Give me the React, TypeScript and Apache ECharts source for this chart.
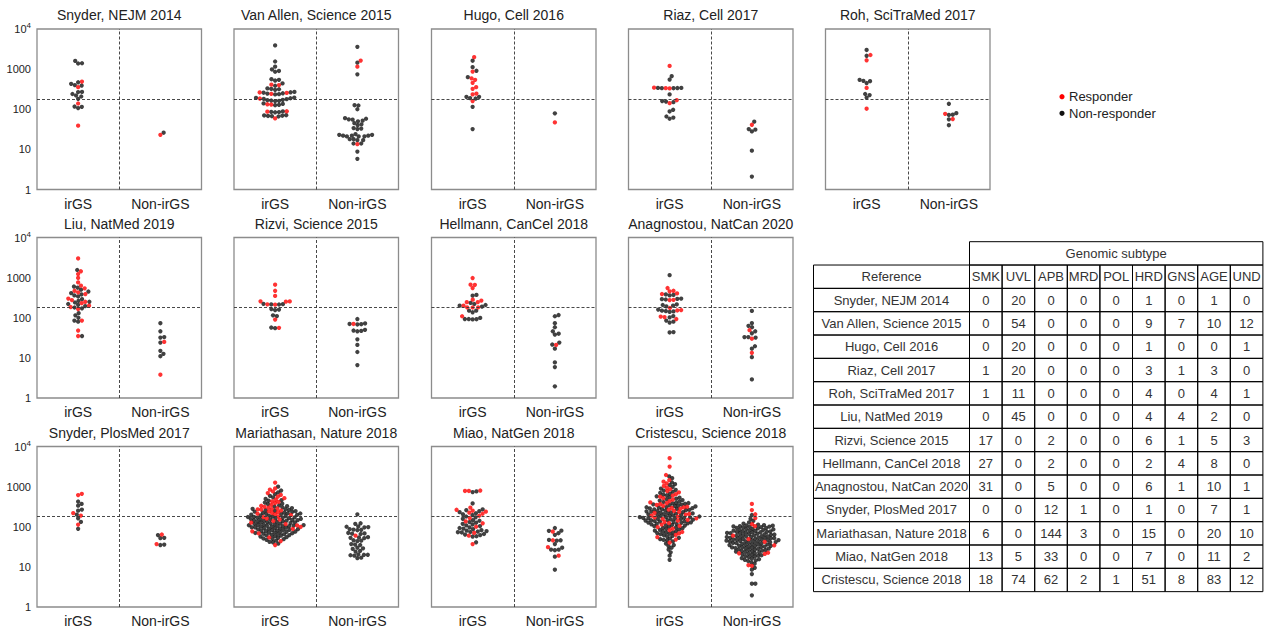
import React, { useEffect, useRef } from "react";
import * as echarts from "echarts";

// ---------------- data ----------------
const panelTitles = [
  "Snyder, NEJM 2014", "Van Allen, Science 2015", "Hugo, Cell 2016", "Riaz, Cell 2017", "Roh, SciTraMed 2017",
  "Liu, NatMed 2019", "Rizvi, Science 2015", "Hellmann, CanCel 2018", "Anagnostou, NatCan 2020",
  "Snyder, PlosMed 2017", "Mariathasan, Nature 2018", "Miao, NatGen 2018", "Cristescu, Science 2018",
];
const groupLabels = ["irGS", "Non-irGS"];
const yTicks = [1, 10, 100, 1000, 10000];
const tmbCutoff = 178;
const legendNames = ["Responder", "Non-responder"];

// R = responder, N = non-responder ; Irgs / Non groups
const snyNejmIrgsR = [490, 355, 139, 39];
const snyNejmIrgsN = [1600, 1400, 1380, 470, 430, 400, 390, 270, 268, 240, 220, 208, 182, 117, 115, 107];
const snyNejmNonR = [23];
const snyNejmNonN = [26];

const vanIrgsR = [410, 400, 262, 255, 242, 185, 133, 131, 89, 87, 59];
const vanIrgsN = [3900, 1550, 1150, 980, 900, 860, 560, 540, 520, 440, 385, 330, 320, 315, 305, 270, 265, 258, 250, 246, 238, 234, 195, 192, 188, 182, 178, 172, 168, 165, 162, 160, 140, 136, 129, 126, 88, 86, 85, 84, 71, 70, 69, 68, 67, 66];
const vanNonR = [1630, 1150, 13.5];
const vanNonN = [3600, 1450, 740, 126, 124, 100, 60, 58, 56, 55, 52, 50, 45, 42, 40, 34, 33, 32, 24, 23, 23, 22, 22, 22, 21, 21, 21, 18, 18, 17, 17, 14, 14, 8.8, 5.8];

const hugoIrgsR = [1990, 870, 540, 590, 455, 355, 323, 246, 234, 160];
const hugoIrgsN = [1620, 1120, 910, 630, 204, 204, 190, 185, 115, 32];
const hugoNonR = [47];
const hugoNonN = [79];

const riazIrgsR = [1200, 345, 335, 330, 168, 142];
const riazIrgsN = [665, 550, 340, 340, 338, 336, 334, 234, 160, 155, 150, 97, 88, 66, 62, 58];
const riazNonR = [41];
const riazNonN = [49, 32, 31, 28, 9.3, 2.1];

const rohIrgsR = [2250, 1660, 340, 103];
const rohIrgsN = [3000, 2150, 540, 510, 500, 450, 240, 225, 195];
const rohNonR = [77, 57];
const rohNonN = [137, 80, 73, 72, 56, 40];

const liuIrgsR = [3000, 1440, 1230, 980, 760, 630, 540, 470, 430, 390, 300, 275, 250, 230, 200, 185, 165, 85, 48, 35];
const liuIrgsN = [1550, 600, 560, 500, 450, 410, 380, 360, 340, 290, 265, 250, 240, 220, 210, 195, 180, 172, 130, 115, 100, 85, 80, 35];
const liuNonR = [25, 3.8];
const liuNonN = [73, 46, 33, 32, 24, 15, 12.6, 11];

const rizIrgsR = [665, 470, 350, 257, 255, 252, 216, 212, 90, 56];
const rizIrgsN = [222, 218, 215, 214, 165, 160, 155, 115, 110, 57, 55];
const rizNonR = [70];
const rizNonN = [93, 72, 70, 69, 68, 50, 48, 47, 46, 29, 21, 14, 6.6];

const helIrgsR = [977, 665, 660, 550, 282, 268, 245, 245, 200, 182, 182, 180, 109];
const helIrgsN = [370, 355, 234, 220, 208, 200, 190, 150, 150, 137, 99, 93, 93, 92, 91];
const helNonR = [21];
const helNonN = [117, 109, 73, 58, 46, 40, 38, 24, 21.5, 17, 7.7, 5.9, 1.95];

const anaIrgsR = [550, 470, 455, 405, 390, 280, 275, 175, 155, 152, 107, 104, 93];
const anaIrgsN = [1150, 380, 370, 360, 300, 295, 290, 285, 215, 208, 200, 192, 160, 150, 147, 144, 140, 110, 102, 85, 80, 76, 44, 43];
const anaNonR = [49, 30, 13.4];
const anaNonN = [148, 73, 63, 58, 46, 41, 33, 33, 32, 19.5, 17, 10.4, 2.9];

const snyPlosIrgsR = [660, 615, 218, 190, 113];
const snyPlosIrgsN = [425, 370, 335, 268, 252, 200, 162, 132, 89];
const snyPlosNonR = [64, 37];
const snyPlosNonN = [62, 53, 52, 36, 35];

const mariIrgsR = [1260, 900, 840, 760, 690, 620, 560, 515, 475, 430, 415, 390, 352, 333, 312, 299, 286, 276, 270, 266, 254, 242, 230, 220, 212, 203, 194, 182, 173, 160, 150, 139, 127, 117, 108, 99, 88, 77, 68, 54, 44, 35];
const mariIrgsN = [
  1000, 800, 720, 650, 590, 540, 495, 460, 445, 400, 375, 365,
  340, 326, 319, 305, 292, 280, 273,
  262, 258, 250, 246, 238, 234, 226, 223, 217, 214, 210,
  206, 200, 197, 191, 188, 185, 179, 177, 175, 171, 169, 167,
  164, 162, 158, 156, 154, 152, 148, 146, 144, 142, 140, 137, 136,
  133, 131, 129, 126, 124, 122, 120, 118, 115, 113, 112, 110, 109, 107, 106, 105,
  104, 103, 101, 100, 97, 96, 95, 93, 92, 91, 89, 87, 86,
  84, 83, 82, 81, 79, 78, 76, 75, 74, 72, 71, 70, 69,
  67, 66, 65, 63, 62, 61, 60, 58, 57, 55, 53, 51, 50, 49,
  47, 45, 42, 41, 38,
];
const mariNonR = [60];
const mariNonN = [204, 122, 118, 102, 100, 98, 96, 87, 85, 84, 82, 70, 68, 67, 66, 55, 54, 53, 52, 46, 45, 44, 37, 36, 35, 30, 29, 28, 25, 24, 20.5, 20, 20, 19.5, 19, 17, 16.5];

const miaoIrgsR = [800, 780, 780, 300, 265, 251, 238, 224, 211, 188, 165, 136, 122, 100, 70, 60, 37];
const miaoIrgsN = [760, 730, 380, 272, 258, 244, 231, 217, 205, 196, 180, 172, 158, 146, 141, 131, 126, 118, 114, 108, 104, 96, 93, 90, 87, 82, 80, 78, 76, 74, 73, 72, 66, 64, 62, 58, 57, 41];
const miaoNonR = [76, 46, 31, 19];
const miaoNonN = [93, 80, 79, 69, 63, 47, 46, 45, 37, 30, 27, 27, 26, 18, 8.5];

const crisIrgsR = [5100, 3160, 1950, 1450, 1330, 1210, 1040, 940, 860, 770, 720, 650, 595, 560, 515, 474, 437, 404, 386, 368, 350, 332, 315, 303, 294, 282, 266, 250, 234, 221, 210, 201, 189, 178, 170, 162, 156, 149, 141, 131, 123, 113, 105, 98, 90, 82, 74, 68, 63, 55, 48, 40];
const crisIrgsN = [
  1800, 1620, 1270, 1150, 1090, 990,
  895, 830, 800, 745, 695, 670, 630, 610,
  575, 545, 530, 500, 487, 461, 449, 425, 414, 396, 390, 382,
  374, 362, 356, 344, 338, 326, 320, 310, 306,
  298, 290, 286, 278, 274, 270, 262, 258, 254, 246, 242, 238, 230, 227, 224, 218, 215, 212,
  207, 204, 198, 195, 192, 186, 183, 180, 176, 174, 172, 168, 166, 164, 160, 158, 157,
  153, 151, 147, 145, 143, 139, 137, 135, 133, 129, 127, 125, 121, 119, 117, 115, 111, 109, 107,
  103, 100, 96, 94, 92, 88, 86, 84, 80, 78, 76, 72, 71, 69, 67,
  65, 61, 59, 57, 53, 51, 49, 47, 46,
  43, 38, 35, 33, 30, 27, 23, 19, 15,
];
const crisNonR = [370, 260, 205, 165, 116, 103, 60, 49, 42, 34.5, 22.5, 21.8, 21, 11, 10.6];
const crisNonN = [
  196, 158,
  140, 128, 120, 113, 110, 108, 106, 104, 102, 101, 100,
  98, 96, 94, 93, 91, 89, 88, 86, 84, 83, 81, 80, 79, 78, 77,
  75, 74, 73, 72, 71, 70, 69, 68, 67, 66, 65, 64, 63, 62, 61, 59,
  58.5, 58, 57, 56, 55.5, 55, 54, 53, 52.5, 52, 51, 50, 49.5, 48.5, 48,
  47.5, 47, 46.5, 46, 45, 44.5, 44, 43.5, 43, 41.5, 41, 40.5, 40,
  39.5, 39, 38.5, 38, 37, 36.5, 36, 35.5, 35, 34, 33.5, 33,
  32.5, 32, 31.5, 31, 30.5, 30, 29.5, 29, 28.5, 28, 27.5, 27, 26.5, 26,
  25.5, 25, 24.5, 24, 23.5, 23, 22, 21.5,
  20.5, 20, 19.5, 19, 18.5, 18, 17.5,
  16.5, 16, 15.5, 15, 14.5, 14,
  13, 12, 9.5, 8.5, 6.6, 3.8, 3.8, 1.95,
];

const panelData = [
  [snyNejmIrgsR, snyNejmIrgsN, snyNejmNonR, snyNejmNonN],
  [vanIrgsR, vanIrgsN, vanNonR, vanNonN],
  [hugoIrgsR, hugoIrgsN, hugoNonR, hugoNonN],
  [riazIrgsR, riazIrgsN, riazNonR, riazNonN],
  [rohIrgsR, rohIrgsN, rohNonR, rohNonN],
  [liuIrgsR, liuIrgsN, liuNonR, liuNonN],
  [rizIrgsR, rizIrgsN, rizNonR, rizNonN],
  [helIrgsR, helIrgsN, helNonR, helNonN],
  [anaIrgsR, anaIrgsN, anaNonR, anaNonN],
  [snyPlosIrgsR, snyPlosIrgsN, snyPlosNonR, snyPlosNonN],
  [mariIrgsR, mariIrgsN, mariNonR, mariNonN],
  [miaoIrgsR, miaoIrgsN, miaoNonR, miaoNonN],
  [crisIrgsR, crisIrgsN, crisNonR, crisNonN],
];

const tableRefs = panelTitles;
const subtypeHeader = "Genomic subtype";
const refHeader = "Reference";
const subtypeCols = ["SMK", "UVL", "APB", "MRD", "POL", "HRD", "GNS", "AGE", "UND"];
const subtypeCounts = [
  [0, 20, 0, 0, 0, 1, 0, 1, 0],
  [0, 54, 0, 0, 0, 9, 7, 10, 12],
  [0, 20, 0, 0, 0, 1, 0, 0, 1],
  [1, 20, 0, 0, 0, 3, 1, 3, 0],
  [1, 11, 0, 0, 0, 4, 0, 4, 1],
  [0, 45, 0, 0, 0, 4, 4, 2, 0],
  [17, 0, 2, 0, 0, 6, 1, 5, 3],
  [27, 0, 2, 0, 0, 2, 4, 8, 0],
  [31, 0, 5, 0, 0, 6, 1, 10, 1],
  [0, 0, 12, 1, 0, 1, 0, 7, 1],
  [6, 0, 144, 3, 0, 15, 0, 20, 10],
  [13, 5, 33, 0, 0, 7, 0, 11, 2],
  [18, 74, 62, 2, 1, 51, 8, 83, 12],
];

// ---------------- layout / style ----------------
const FONT = '"Liberation Sans", Arial, Helvetica, sans-serif';
const RED = "#ff0000";
const BLACK = "#111111";
const PANEL_W = 164.5;
const PANEL_H = 160.5;
const colLefts = [37, 234, 431.5, 628.5, 825.5];
const rowTops = [29, 237.5, 446.5];
const rowCounts = [5, 4, 4];
const SYM = 4.3;
const GAP_SMALL = 3.9;
const GAP_LARGE = 3.5;

// beeswarm offsets (pixels) for values on a log axis
function swarmOffsets(values: number[], pxPerDecade: number, d: number): number[] {
  const order = values.map((_, i) => i).sort((a, b) => values[a] - values[b]);
  const placed: { x: number; y: number }[] = [];
  const out = new Array(values.length).fill(0);
  for (const i of order) {
    const y = Math.log10(values[i]) * pxPerDecade;
    const cands = [0];
    for (const p of placed) {
      const dy = Math.abs(p.y - y);
      if (dy < d) {
        const dx = Math.sqrt(d * d - dy * dy);
        cands.push(p.x + dx, p.x - dx);
      }
    }
    cands.sort((a, b) => Math.abs(a) - Math.abs(b));
    let chosen = 0;
    for (const c of cands) {
      let ok = true;
      for (const p of placed) {
        const dx = p.x - c;
        const dy = p.y - y;
        if (dx * dx + dy * dy < d * d - 1e-6) { ok = false; break; }
      }
      if (ok) { chosen = c; break; }
    }
    placed.push({ x: chosen, y });
    out[i] = chosen;
  }
  return out;
}

function buildOption() {
  const grids: any[] = [];
  const xAxes: any[] = [];
  const yAxes: any[] = [];
  const series: any[] = [];
  const graphics: any[] = [];
  const pxPerUnit = PANEL_W / 2;
  const pxPerDecade = PANEL_H / 4;

  let idx = 0;
  rowCounts.forEach((cnt, r) => {
    for (let c = 0; c < cnt; c++) {
      const i = idx++;
      const left = colLefts[c];
      const top = rowTops[r];
      grids.push({ left, top, width: PANEL_W, height: PANEL_H, show: true, borderColor: "#8c8c8c", borderWidth: 1.3, backgroundColor: "transparent" });
      xAxes.push({
        type: "value", gridIndex: i, min: 0, max: 2, interval: 0.5,
        axisLine: { show: false }, axisTick: { show: false }, splitLine: { show: false },
        axisLabel: {
          show: true, margin: 7, fontSize: 14, color: "#222", fontFamily: FONT,
          showMinLabel: true, showMaxLabel: true,
          formatter: (v: number) => (Math.abs(v - 0.5) < 1e-6 ? groupLabels[0] : Math.abs(v - 1.5) < 1e-6 ? groupLabels[1] : ""),
        },
      });
      yAxes.push({
        type: "log", logBase: 10, gridIndex: i, min: yTicks[0], max: yTicks[yTicks.length - 1],
        axisLine: { show: false }, axisTick: { show: false }, splitLine: { show: false },
        axisLabel: {
          show: c === 0, margin: 6, fontSize: 11, color: "#222", fontFamily: FONT,
          showMinLabel: true, showMaxLabel: true,
          formatter: (v: number) => {
            const rv = Math.round(v);
            return rv === 10000 ? "{b|10}{s|4}" : "{b|" + rv + "}";
          },
          rich: {
            b: { fontSize: 11, color: "#222", fontFamily: FONT },
            s: { fontSize: 8, color: "#222", fontFamily: FONT, padding: [0, 0, 7, 0] },
          },
        },
      });

      const [irR, irN, nonR, nonN] = panelData[i];
      const groups = [
        { center: 0.5, r: irR, n: irN },
        { center: 1.5, r: nonR, n: nonN },
      ];
      const redPts: any[] = [];
      const blackPts: any[] = [];
      groups.forEach((g) => {
        const vals = g.r.concat(g.n);
        const gap = vals.length > 100 ? GAP_LARGE : GAP_SMALL;
        const offs = swarmOffsets(vals, pxPerDecade, gap);
        vals.forEach((v, k) => {
          const pt = [g.center + offs[k] / pxPerUnit, v];
          if (k < g.r.length) redPts.push(pt); else blackPts.push(pt);
        });
      });
      series.push({
        type: "scatter", name: legendNames[1], xAxisIndex: i, yAxisIndex: i, silent: true,
        symbol: "circle", symbolSize: SYM, itemStyle: { color: BLACK }, data: blackPts,
        markLine: {
          silent: true, symbol: "none", animation: false,
          label: { show: false },
          lineStyle: { type: [3, 2], color: "#333", width: 0.9 },
          data: [{ xAxis: 1 }, { yAxis: tmbCutoff }],
        },
      });
      series.push({
        type: "scatter", name: legendNames[0], xAxisIndex: i, yAxisIndex: i, silent: true,
        symbol: "circle", symbolSize: SYM, itemStyle: { color: RED }, data: redPts,
      });
      graphics.push({
        type: "text", x: left + PANEL_W / 2, y: top - 14, silent: true,
        style: { text: panelTitles[i], fontSize: 14, fontFamily: FONT, fill: "#222", textAlign: "center", textVerticalAlign: "middle" },
      });
    }
  });

  // legend
  legendNames.forEach((name, k) => {
    const y = 96.7 + k * 16.6;
    graphics.push({ type: "circle", shape: { cx: 1062, cy: y, r: 2.6 }, style: { fill: k === 0 ? RED : BLACK }, silent: true });
    graphics.push({ type: "text", x: 1069, y, silent: true, style: { text: name, fontSize: 13, fontFamily: FONT, fill: "#222", textAlign: "left", textVerticalAlign: "middle" } });
  });

  // table
  const tL = 813.5, refW = 156, colW = 32.6, rowH = 23.33, tT = 241.7;
  const lineStyle = { fill: "none", stroke: "#000", lineWidth: 1 };
  const txt = (x: number, y: number, text: string) => ({
    type: "text", x, y, silent: true,
    style: { text, fontSize: 13, fontFamily: FONT, fill: "#333", textAlign: "center", textVerticalAlign: "middle" },
  });
  const sx = tL + refW;
  graphics.push({ type: "rect", shape: { x: sx, y: tT, width: colW * subtypeCols.length, height: rowH }, style: lineStyle, silent: true });
  graphics.push(txt(sx + (colW * subtypeCols.length) / 2, tT + rowH / 2, subtypeHeader));
  const r2 = tT + rowH;
  graphics.push({ type: "rect", shape: { x: tL, y: r2, width: refW, height: rowH }, style: lineStyle, silent: true });
  graphics.push(txt(tL + refW / 2, r2 + rowH / 2, refHeader));
  subtypeCols.forEach((s, j) => {
    graphics.push({ type: "rect", shape: { x: sx + j * colW, y: r2, width: colW, height: rowH }, style: lineStyle, silent: true });
    graphics.push(txt(sx + j * colW + colW / 2, r2 + rowH / 2, s));
  });
  tableRefs.forEach((ref, k) => {
    const ry = tT + (k + 2) * rowH;
    graphics.push({ type: "rect", shape: { x: tL, y: ry, width: refW, height: rowH }, style: lineStyle, silent: true });
    graphics.push(txt(tL + refW / 2, ry + rowH / 2, ref));
    subtypeCounts[k].forEach((v, j) => {
      graphics.push({ type: "rect", shape: { x: sx + j * colW, y: ry, width: colW, height: rowH }, style: lineStyle, silent: true });
      graphics.push(txt(sx + j * colW + colW / 2, ry + rowH / 2, String(v)));
    });
  });

  return {
    animation: false,
    backgroundColor: "#ffffff",
    textStyle: { fontFamily: FONT },
    grid: grids,
    xAxis: xAxes,
    yAxis: yAxes,
    series,
    graphic: { elements: graphics },
  };
}

export default function App() {
  const ref = useRef<HTMLDivElement>(null);
  useEffect(() => {
    if (!ref.current) return;
    const chart = echarts.init(ref.current, undefined, { renderer: "svg" });
    chart.setOption(buildOption() as any);
    return () => chart.dispose();
  }, []);
  return <div ref={ref} style={{ position: "fixed", left: 0, top: 0, width: 1266, height: 628, background: "#fff" }} />;
}
